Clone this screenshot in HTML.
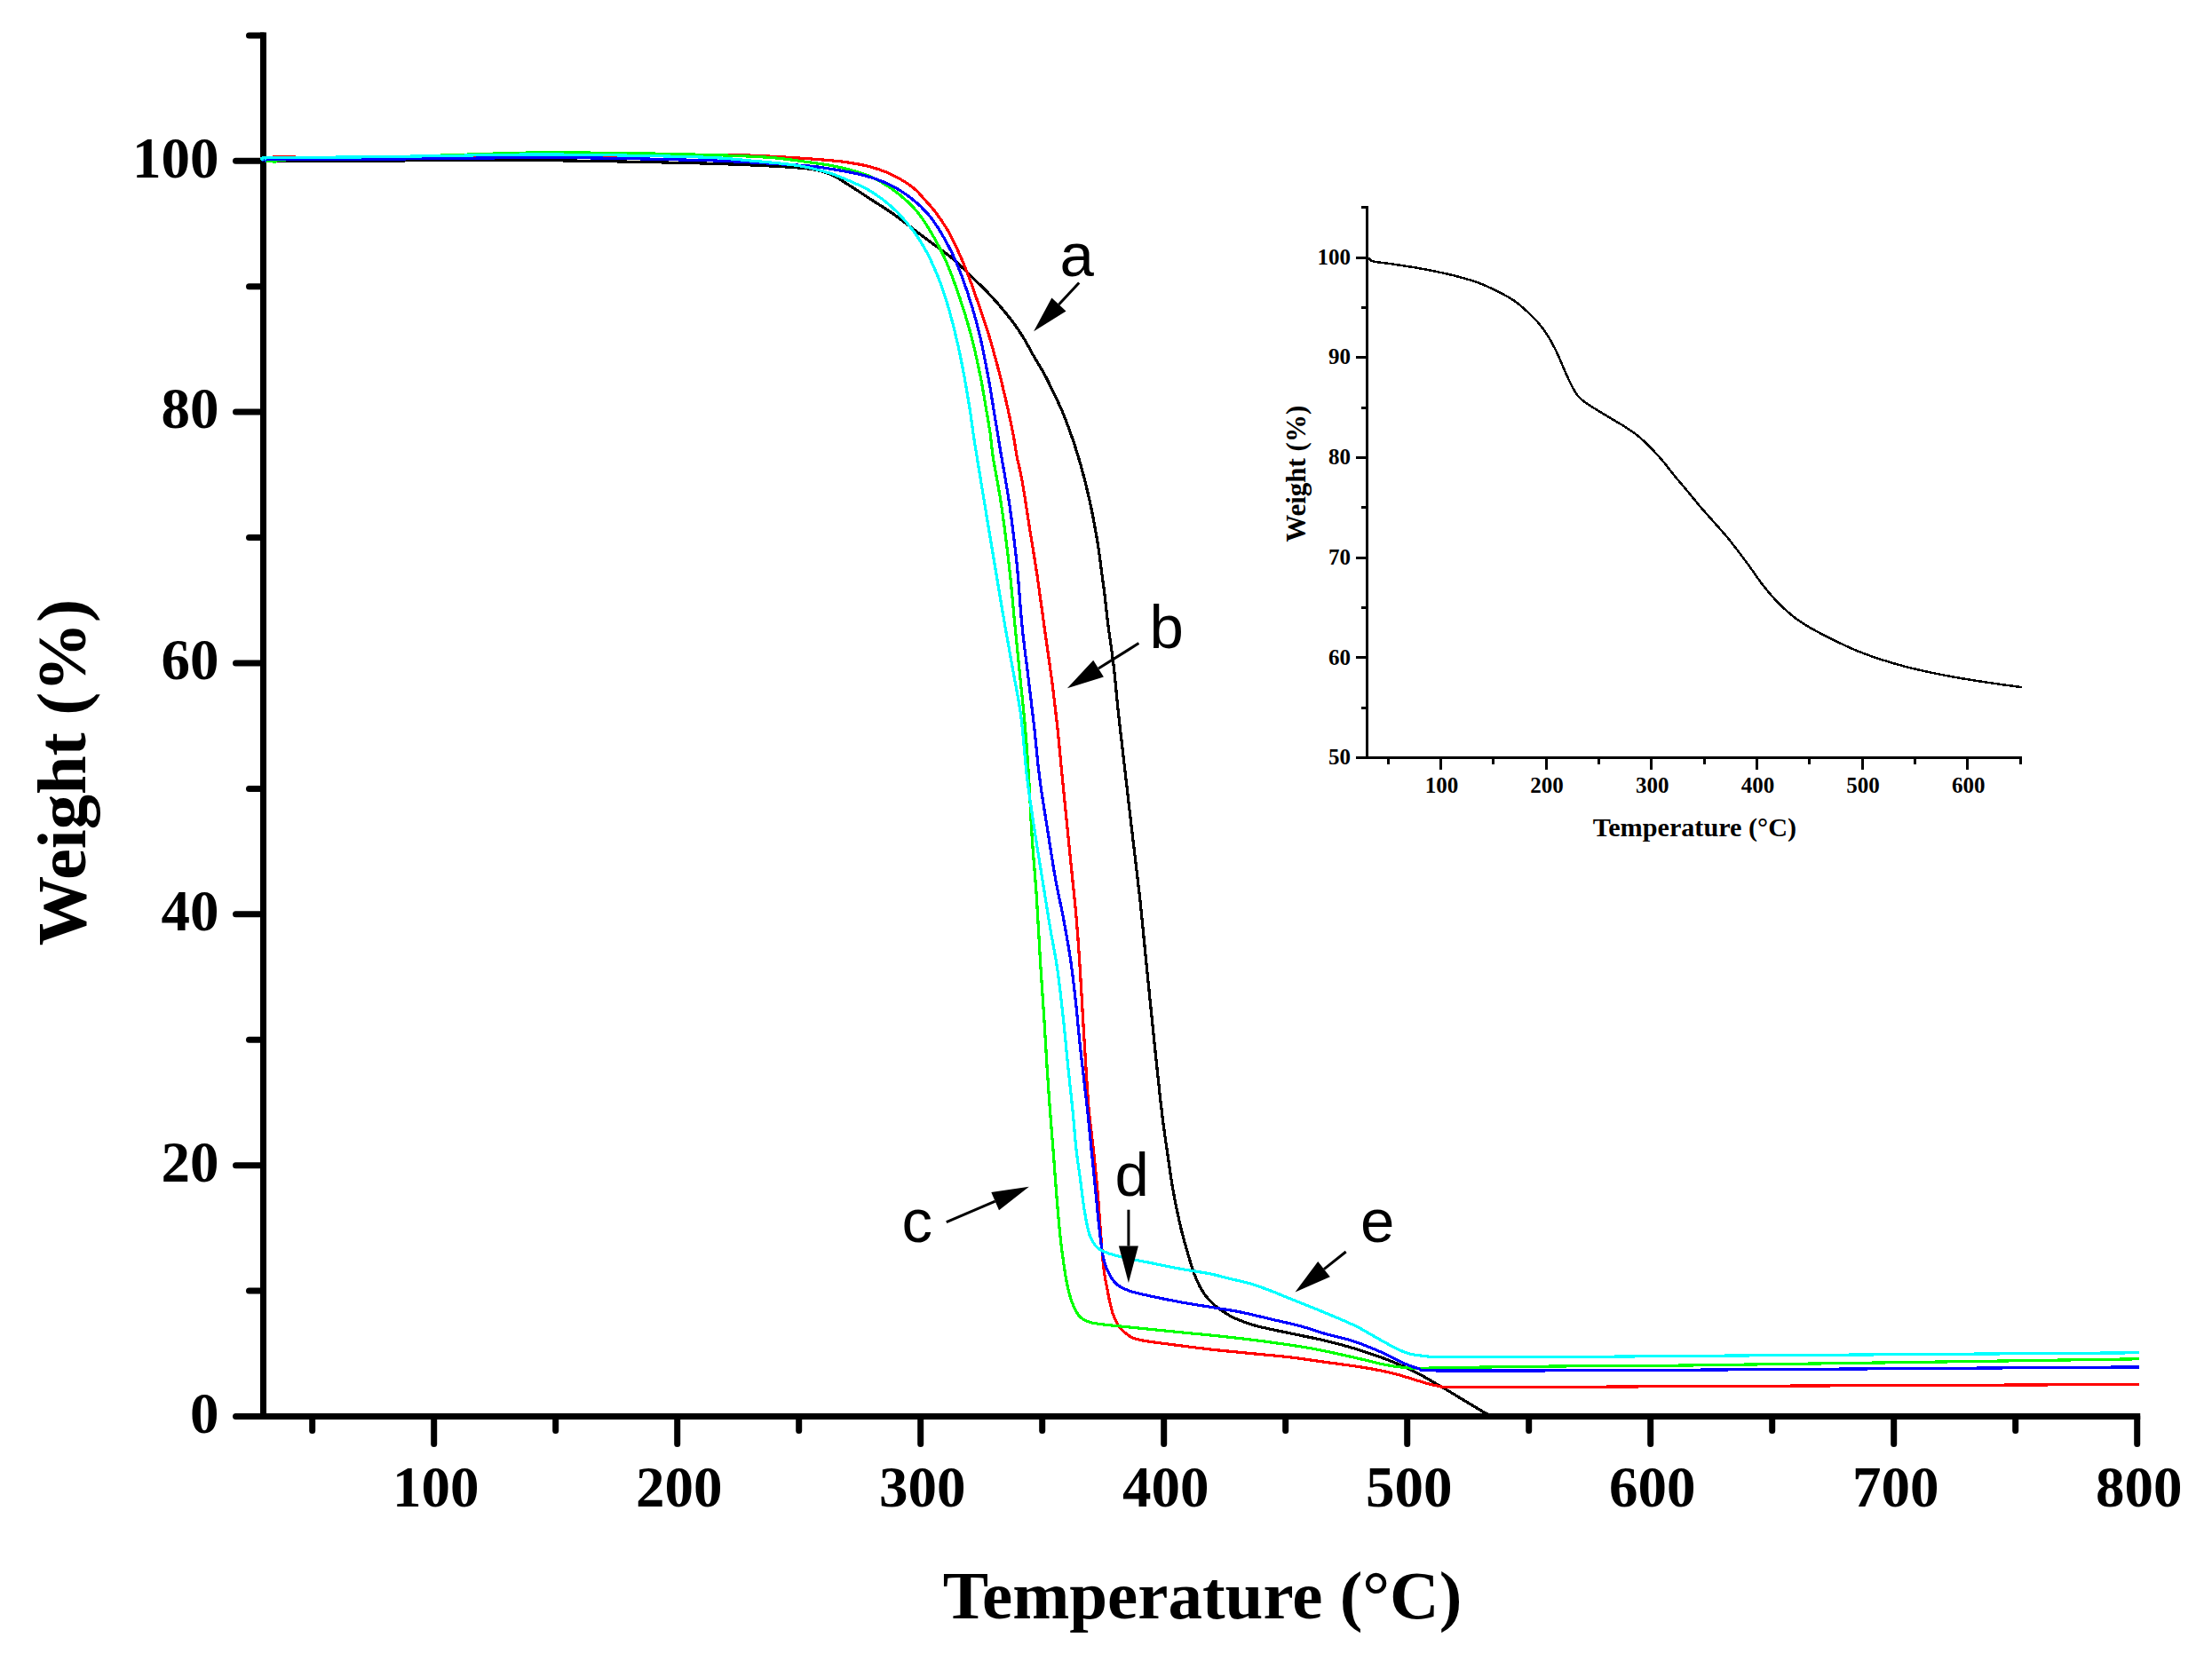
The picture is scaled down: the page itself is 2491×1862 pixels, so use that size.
<!DOCTYPE html>
<html lang="en"><head><meta charset="utf-8"><title>TGA curves</title>
<style>
html,body{margin:0;padding:0;background:#fff;}
body{width:2491px;height:1862px;overflow:hidden;}
svg{display:block;}
.t{font-family:"Liberation Serif","Times New Roman",serif;font-weight:bold;fill:#000;}
.s{font-family:"Liberation Sans",Arial,sans-serif;fill:#000;}
</style></head><body>
<svg width="2491" height="1862" viewBox="0 0 2491 1862">
<rect width="2491" height="1862" fill="#fff"/>
<g stroke="#000" stroke-width="7" stroke-linecap="round" fill="none">
<path stroke-linecap="butt" d="M296.5 36.4 V1599.0"/>
<path stroke-linecap="butt" d="M296.5 1595.5 H2410.2"/>
<path d="M265.5 1595.5 H296.5"/>
<path d="M280.5 1454.1 H296.5"/>
<path d="M265.5 1312.7 H296.5"/>
<path d="M280.5 1171.2 H296.5"/>
<path d="M265.5 1029.8 H296.5"/>
<path d="M280.5 888.4 H296.5"/>
<path d="M265.5 747.0 H296.5"/>
<path d="M280.5 605.6 H296.5"/>
<path d="M265.5 464.1 H296.5"/>
<path d="M280.5 322.7 H296.5"/>
<path d="M265.5 181.3 H296.5"/>
<path d="M280.5 39.9 H296.5"/>
<path d="M351.7 1595.5 V1611.5"/>
<path d="M488.7 1595.5 V1626.5"/>
<path d="M625.7 1595.5 V1611.5"/>
<path d="M762.7 1595.5 V1626.5"/>
<path d="M899.7 1595.5 V1611.5"/>
<path d="M1036.7 1595.5 V1626.5"/>
<path d="M1173.7 1595.5 V1611.5"/>
<path d="M1310.7 1595.5 V1626.5"/>
<path d="M1447.7 1595.5 V1611.5"/>
<path d="M1584.7 1595.5 V1626.5"/>
<path d="M1721.7 1595.5 V1611.5"/>
<path d="M1858.7 1595.5 V1626.5"/>
<path d="M1995.7 1595.5 V1611.5"/>
<path d="M2132.7 1595.5 V1626.5"/>
<path d="M2269.7 1595.5 V1611.5"/>
<path d="M2406.7 1595.5 V1626.5"/>
</g>
<g fill="none" stroke-width="3.2" stroke-linejoin="round" stroke-linecap="butt" shape-rendering="crispEdges">
<path stroke="#000" d="M298.0 181.5C300.0 181.4 293.0 181.1 310.0 181.0C327.0 180.9 368.3 181.0 400.0 181.0C431.7 181.0 466.7 180.9 500.0 180.8C533.3 180.7 566.7 180.3 600.0 180.5C633.3 180.7 666.7 181.4 700.0 182.0C733.3 182.6 772.0 183.4 800.0 184.2C828.0 185.0 849.1 186.0 868.0 187.0C886.9 188.0 902.0 188.8 913.4 190.4C924.8 192.0 928.5 193.4 936.1 196.7C943.7 200.0 951.2 205.6 958.8 210.3C966.4 215.0 973.9 220.2 981.5 225.1C989.1 230.0 996.6 234.5 1004.2 239.8C1011.8 245.1 1019.4 251.1 1026.9 256.8C1034.5 262.5 1042.0 268.1 1049.5 273.8C1057.0 279.5 1064.6 284.5 1072.2 290.9C1079.8 297.3 1087.3 305.0 1094.9 312.4C1102.5 319.8 1110.0 326.8 1117.6 335.1C1125.2 343.4 1134.2 354.4 1140.3 362.3C1146.3 370.2 1150.0 376.4 1153.9 382.7C1157.8 389.0 1159.8 393.5 1163.5 400.0C1167.2 406.5 1172.4 414.5 1176.3 421.8C1180.2 429.1 1183.6 436.3 1187.1 443.6C1190.6 450.9 1194.1 458.1 1197.1 465.4C1200.1 472.6 1202.7 479.9 1205.3 487.1C1207.9 494.4 1210.3 501.6 1212.6 508.9C1214.9 516.2 1216.9 523.4 1218.9 530.7C1220.9 538.0 1222.7 545.2 1224.4 552.5C1226.1 559.8 1227.8 567.0 1229.3 574.3C1230.8 581.6 1232.1 588.8 1233.4 596.1C1234.7 603.4 1235.9 609.7 1237.1 617.9C1238.3 626.1 1239.5 636.0 1240.7 645.1C1241.9 654.2 1243.2 662.8 1244.3 672.3C1245.4 681.8 1246.0 689.1 1247.6 702.0C1249.2 714.9 1252.1 732.1 1254.1 749.5C1256.1 766.9 1257.5 785.4 1259.8 806.3C1262.1 827.2 1265.1 852.2 1267.7 875.0C1270.3 897.8 1272.9 920.4 1275.6 943.1C1278.2 965.8 1280.9 986.5 1283.6 1011.1C1286.2 1035.7 1288.8 1064.0 1291.5 1090.5C1294.2 1117.0 1296.7 1143.3 1299.5 1169.9C1302.3 1196.5 1305.6 1229.1 1308.1 1250.0C1310.5 1270.9 1312.0 1280.3 1314.2 1295.4C1316.4 1310.5 1318.5 1326.7 1321.0 1340.7C1323.5 1354.7 1326.1 1367.2 1328.9 1379.3C1331.7 1391.4 1335.0 1403.1 1338.0 1413.3C1341.0 1423.5 1344.1 1433.2 1347.1 1440.6C1350.1 1448.0 1352.8 1452.7 1356.2 1457.6C1359.6 1462.5 1362.6 1465.8 1367.5 1470.0C1372.4 1474.2 1378.9 1478.9 1385.7 1482.5C1392.5 1486.1 1400.8 1489.1 1408.3 1491.6C1415.8 1494.1 1424.4 1495.8 1431.0 1497.3C1437.6 1498.8 1441.8 1499.5 1448.0 1500.8C1454.2 1502.1 1460.9 1503.5 1468.0 1505.0C1475.1 1506.5 1481.2 1507.5 1490.7 1509.8C1500.2 1512.1 1513.5 1515.5 1524.8 1518.9C1536.1 1522.3 1547.5 1526.0 1558.8 1530.3C1570.1 1534.6 1581.4 1539.3 1592.8 1545.0C1604.2 1550.7 1617.5 1558.8 1626.9 1564.3C1636.4 1569.8 1642.0 1573.4 1649.5 1577.9C1657.0 1582.4 1668.0 1589.0 1672.2 1591.5C1676.5 1594.0 1674.5 1592.8 1675.0 1593.0"/>
<path stroke="#f00" d="M298.0 181.0C300.0 180.3 293.0 177.5 310.0 177.0C327.0 176.5 351.7 178.1 400.0 178.0C448.3 177.9 550.0 177.0 600.0 176.5C650.0 176.0 666.7 175.3 700.0 175.0C733.3 174.7 778.4 174.6 800.0 174.5C821.6 174.4 814.4 174.0 829.5 174.5C844.6 175.0 872.9 176.3 890.7 177.4C908.5 178.5 924.8 179.8 936.1 180.8C947.5 181.8 951.2 182.3 958.8 183.6C966.4 184.8 973.9 186.1 981.5 188.3C989.1 190.5 996.6 193.0 1004.2 196.7C1011.8 200.4 1020.9 205.8 1026.9 210.3C1033.0 214.8 1036.0 219.0 1040.5 223.9C1045.0 228.8 1049.6 233.8 1054.1 239.8C1058.6 245.9 1063.5 253.0 1067.7 260.2C1071.9 267.4 1075.2 274.6 1079.0 282.9C1082.8 291.2 1086.6 300.3 1090.4 310.1C1094.2 319.9 1097.9 330.9 1101.7 341.9C1105.5 352.9 1109.7 364.9 1113.1 375.9C1116.5 386.9 1119.4 397.9 1122.1 407.7C1124.8 417.5 1126.7 425.4 1129.0 434.9C1131.3 444.3 1133.7 454.9 1135.8 464.4C1137.9 473.8 1139.8 483.2 1141.4 491.6C1143.0 500.0 1143.7 506.8 1145.3 515.0C1146.9 523.2 1148.7 528.2 1150.9 540.8C1153.2 553.4 1156.0 572.9 1158.8 590.7C1161.6 608.5 1165.1 628.6 1167.9 647.5C1170.7 666.4 1173.2 685.3 1175.8 704.2C1178.4 723.1 1181.3 742.0 1183.8 760.9C1186.3 779.8 1188.5 798.6 1190.6 817.6C1192.7 836.6 1194.3 856.0 1196.2 875.0C1198.1 894.0 1200.0 912.8 1201.9 931.7C1203.8 950.6 1205.9 971.4 1207.6 988.4C1209.3 1005.4 1210.8 1018.7 1212.1 1033.8C1213.4 1048.9 1214.4 1062.2 1215.5 1079.2C1216.6 1096.2 1217.8 1117.0 1218.9 1135.9C1220.0 1154.8 1221.1 1173.6 1222.3 1192.6C1223.5 1211.6 1224.7 1232.9 1226.2 1250.0C1227.7 1267.1 1229.8 1280.3 1231.4 1295.4C1233.0 1310.5 1234.6 1325.6 1235.9 1340.7C1237.2 1355.8 1238.2 1371.7 1239.3 1386.1C1240.4 1400.5 1241.4 1415.7 1242.7 1427.0C1244.0 1438.3 1245.6 1445.5 1247.3 1454.2C1249.0 1462.9 1250.7 1472.3 1253.0 1479.1C1255.3 1485.9 1257.7 1490.7 1260.9 1495.0C1264.1 1499.3 1268.1 1502.7 1272.2 1505.2C1276.3 1507.7 1278.2 1508.3 1285.8 1509.8C1293.4 1511.3 1304.7 1512.6 1317.6 1514.3C1330.5 1516.0 1347.9 1518.3 1363.0 1520.0C1378.1 1521.7 1393.2 1523.0 1408.3 1524.5C1423.4 1526.0 1440.0 1527.4 1453.7 1529.0C1467.4 1530.6 1477.0 1532.2 1490.7 1534.1C1504.4 1536.0 1522.9 1538.3 1536.1 1540.5C1549.3 1542.7 1560.6 1545.0 1570.1 1547.3C1579.5 1549.6 1585.2 1551.9 1592.8 1554.1C1600.4 1556.3 1607.9 1559.0 1615.5 1560.4C1623.1 1561.8 1617.4 1562.4 1638.2 1562.7C1659.0 1563.0 1696.7 1562.7 1740.3 1562.5C1783.9 1562.3 1788.6 1562.1 1900.0 1561.6C2011.4 1561.1 2323.9 1559.8 2408.7 1559.5"/>
<path stroke="#0f0" d="M298.0 181.0C300.0 181.2 306.3 182.2 310.0 182.0C313.7 181.8 305.0 180.7 320.0 180.0C335.0 179.3 370.0 178.8 400.0 178.0C430.0 177.2 466.7 176.0 500.0 175.0C533.3 174.0 566.7 172.4 600.0 172.0C633.3 171.6 666.7 172.1 700.0 172.5C733.3 172.9 772.0 173.7 800.0 174.5C828.0 175.3 849.1 176.1 868.0 177.5C886.9 178.9 902.0 181.6 913.4 183.1C924.8 184.6 928.5 185.1 936.1 186.5C943.7 187.9 951.2 189.5 958.8 191.7C966.4 193.8 973.9 195.9 981.5 199.4C989.1 202.9 996.6 207.2 1004.2 212.6C1011.8 218.0 1020.9 225.8 1026.9 231.9C1033.0 238.0 1036.0 242.3 1040.5 248.9C1045.0 255.5 1049.9 264.0 1054.1 271.6C1058.2 279.2 1061.6 285.6 1065.4 294.3C1069.2 303.0 1073.4 314.4 1076.8 323.8C1080.2 333.2 1082.8 341.2 1085.8 351.0C1088.8 360.8 1091.9 370.6 1094.9 382.7C1097.9 394.8 1101.3 410.4 1104.0 423.6C1106.7 436.8 1108.9 451.1 1110.8 462.1C1112.7 473.1 1114.0 480.6 1115.3 489.4C1116.5 498.2 1116.3 501.9 1118.3 515.0C1120.3 528.1 1124.5 547.8 1127.5 568.0C1130.5 588.2 1133.7 613.4 1136.3 636.1C1138.9 658.8 1140.9 683.4 1142.9 704.2C1145.0 725.0 1146.7 742.0 1148.6 760.9C1150.5 779.8 1152.6 798.6 1154.3 817.6C1156.0 836.6 1157.2 854.1 1158.5 875.0C1159.8 895.9 1160.7 920.3 1162.2 943.0C1163.7 965.7 1165.9 988.4 1167.4 1011.1C1168.9 1033.8 1169.9 1056.5 1171.3 1079.2C1172.7 1101.9 1174.5 1126.4 1175.8 1147.2C1177.1 1168.0 1178.1 1186.9 1179.2 1204.0C1180.3 1221.1 1181.3 1234.8 1182.4 1250.0C1183.5 1265.2 1184.8 1280.3 1186.0 1295.4C1187.2 1310.5 1188.2 1325.6 1189.4 1340.7C1190.6 1355.8 1192.0 1372.9 1193.3 1386.1C1194.6 1399.3 1196.0 1409.9 1197.4 1420.1C1198.8 1430.3 1200.2 1439.5 1201.9 1447.4C1203.6 1455.4 1205.3 1462.0 1207.6 1467.8C1209.9 1473.6 1212.3 1478.9 1215.5 1482.5C1218.7 1486.1 1221.2 1487.6 1226.9 1489.3C1232.6 1491.0 1238.2 1491.4 1249.5 1492.7C1260.8 1494.0 1279.8 1495.8 1294.9 1497.3C1310.0 1498.8 1325.2 1500.3 1340.3 1501.8C1355.4 1503.3 1370.6 1504.7 1385.7 1506.4C1400.8 1508.1 1415.9 1509.9 1431.0 1512.0C1446.1 1514.1 1460.8 1516.0 1476.4 1518.8C1492.0 1521.6 1511.1 1526.0 1524.8 1529.1C1538.5 1532.1 1549.3 1535.2 1558.8 1537.1C1568.2 1539.0 1573.9 1539.8 1581.5 1540.5C1589.1 1541.2 1589.1 1541.3 1604.2 1541.2C1619.3 1541.1 1642.0 1540.4 1672.2 1540.0C1702.5 1539.6 1747.7 1539.0 1785.7 1538.7C1823.7 1538.4 1796.2 1539.3 1900.0 1538.0C2003.8 1536.7 2323.9 1532.0 2408.7 1530.8"/>
<path stroke="#00f" d="M298.0 181.0C299.2 180.8 288.0 179.8 305.0 179.5C322.0 179.2 350.8 179.8 400.0 179.5C449.2 179.2 550.0 177.7 600.0 177.5C650.0 177.3 666.7 177.9 700.0 178.5C733.3 179.1 772.0 179.9 800.0 180.8C828.0 181.8 849.1 183.1 868.0 184.2C886.9 185.3 902.0 186.2 913.4 187.2C924.8 188.2 928.5 189.2 936.1 190.4C943.7 191.6 951.2 192.8 958.8 194.4C966.4 196.0 973.9 197.6 981.5 200.1C989.1 202.6 996.6 205.2 1004.2 209.2C1011.8 213.2 1020.1 218.6 1026.9 223.9C1033.7 229.2 1039.7 234.9 1045.0 241.0C1050.3 247.1 1054.1 252.8 1058.6 260.2C1063.1 267.6 1068.0 276.5 1072.2 285.2C1076.4 293.9 1079.8 302.2 1083.6 312.4C1087.4 322.6 1091.5 335.0 1094.9 346.4C1098.3 357.8 1101.0 367.3 1104.0 380.5C1107.0 393.7 1110.4 411.4 1113.1 425.8C1115.8 440.2 1118.0 455.4 1119.9 466.7C1121.8 478.0 1123.3 487.2 1124.4 493.9C1125.5 500.6 1124.4 494.6 1126.5 507.0C1128.6 519.4 1133.7 546.5 1136.8 568.0C1139.9 589.5 1142.8 613.4 1145.2 636.1C1147.6 658.8 1148.8 683.4 1150.9 704.2C1153.0 725.0 1155.4 742.0 1157.7 760.9C1160.0 779.8 1162.3 798.6 1164.5 817.6C1166.7 836.6 1168.1 856.0 1170.6 875.0C1173.0 894.0 1176.2 912.8 1179.2 931.7C1182.2 950.6 1185.3 971.4 1188.3 988.4C1191.3 1005.4 1194.6 1018.7 1197.4 1033.8C1200.2 1048.9 1203.0 1064.1 1205.3 1079.2C1207.6 1094.3 1209.1 1107.5 1211.0 1124.5C1212.9 1141.5 1214.4 1160.4 1216.7 1181.3C1219.0 1202.2 1222.5 1231.0 1224.6 1250.0C1226.7 1269.0 1227.6 1280.3 1229.1 1295.4C1230.6 1310.5 1232.2 1325.6 1233.7 1340.7C1235.2 1355.8 1236.7 1373.2 1238.2 1386.1C1239.7 1399.0 1240.8 1409.6 1242.7 1417.9C1244.6 1426.2 1246.8 1431.1 1249.5 1436.0C1252.2 1440.9 1254.8 1444.4 1258.6 1447.4C1262.4 1450.4 1266.2 1452.1 1272.2 1454.2C1278.2 1456.3 1285.5 1457.7 1294.9 1459.8C1304.4 1461.9 1317.6 1464.6 1328.9 1466.7C1340.2 1468.8 1351.7 1470.4 1363.0 1472.3C1374.3 1474.2 1385.7 1475.7 1397.0 1478.0C1408.3 1480.3 1419.7 1483.2 1431.0 1485.9C1442.3 1488.6 1455.1 1491.2 1465.1 1493.9C1475.0 1496.6 1480.8 1499.1 1490.7 1501.9C1500.7 1504.8 1513.5 1507.2 1524.8 1511.0C1536.1 1514.8 1549.3 1520.4 1558.8 1524.6C1568.2 1528.8 1575.1 1533.1 1581.5 1535.9C1587.9 1538.7 1591.7 1540.3 1597.4 1541.6C1603.1 1542.9 1591.7 1543.5 1615.5 1543.9C1639.3 1544.3 1692.9 1544.0 1740.3 1543.9C1787.7 1543.8 1788.6 1543.9 1900.0 1543.2C2011.4 1542.5 2323.9 1540.5 2408.7 1539.9"/>
<path stroke="#0ff" d="M298.0 180.0C298.8 179.6 286.0 178.0 303.0 177.5C320.0 177.0 367.2 177.3 400.0 177.0C432.8 176.7 466.7 176.0 500.0 175.5C533.3 175.0 566.7 174.1 600.0 174.0C633.3 173.9 666.7 174.4 700.0 175.0C733.3 175.6 775.8 176.4 800.0 177.4C824.2 178.4 829.9 179.7 845.0 181.0C860.1 182.3 879.3 184.0 890.7 185.4C902.1 186.8 905.8 187.8 913.4 189.5C921.0 191.2 928.5 193.1 936.1 195.6C943.7 198.1 951.2 201.3 958.8 204.7C966.4 208.1 973.9 211.3 981.5 216.0C989.1 220.7 996.6 226.0 1004.2 233.0C1011.8 240.0 1020.9 250.4 1026.9 258.0C1033.0 265.6 1036.3 271.2 1040.5 278.4C1044.7 285.6 1048.4 293.5 1051.8 301.1C1055.2 308.7 1057.9 315.1 1060.9 323.8C1063.9 332.5 1067.0 342.3 1070.0 353.3C1073.0 364.3 1076.4 377.9 1079.0 389.6C1081.6 401.3 1083.5 411.1 1085.8 423.6C1088.1 436.1 1090.8 452.2 1092.7 464.4C1094.6 476.6 1094.6 479.7 1097.3 497.0C1100.0 514.3 1105.1 544.8 1108.9 568.0C1112.7 591.2 1116.4 613.4 1120.2 636.1C1124.0 658.8 1128.0 683.4 1131.6 704.2C1135.2 725.0 1138.8 743.9 1141.8 760.9C1144.8 777.9 1147.2 787.3 1149.7 806.3C1152.2 825.3 1154.0 854.1 1156.5 875.0C1159.0 895.9 1161.7 912.8 1164.5 931.7C1167.3 950.6 1170.5 969.5 1173.5 988.4C1176.5 1007.3 1179.8 1028.1 1182.6 1045.1C1185.4 1062.1 1188.1 1073.5 1190.6 1090.5C1193.1 1107.5 1195.3 1128.3 1197.4 1147.2C1199.5 1166.1 1201.2 1186.9 1203.0 1204.0C1204.8 1221.1 1206.4 1234.8 1207.9 1250.0C1209.4 1265.2 1210.6 1282.2 1212.1 1295.4C1213.6 1308.6 1215.2 1318.1 1216.7 1329.4C1218.2 1340.7 1219.5 1353.2 1221.2 1363.4C1222.9 1373.6 1224.5 1383.7 1226.9 1390.7C1229.4 1397.7 1232.1 1401.8 1235.9 1405.4C1239.7 1409.0 1243.5 1410.1 1249.5 1412.2C1255.5 1414.3 1264.6 1416.2 1272.2 1417.9C1279.8 1419.6 1285.5 1420.5 1294.9 1422.4C1304.4 1424.3 1317.6 1427.1 1328.9 1429.2C1340.2 1431.3 1353.5 1433.0 1363.0 1434.9C1372.5 1436.8 1378.2 1438.8 1385.7 1440.6C1393.2 1442.4 1400.8 1443.8 1408.3 1446.0C1415.8 1448.2 1423.4 1451.1 1431.0 1454.0C1438.6 1456.9 1443.8 1459.2 1453.7 1463.2C1463.7 1467.2 1478.9 1473.2 1490.7 1478.1C1502.5 1483.0 1515.3 1488.3 1524.8 1492.8C1534.3 1497.3 1540.0 1501.1 1547.5 1505.3C1555.0 1509.5 1563.7 1514.6 1570.1 1517.8C1576.5 1521.0 1580.3 1523.0 1586.0 1524.6C1591.7 1526.2 1597.4 1526.8 1604.2 1527.5C1611.0 1528.2 1604.2 1528.5 1626.9 1528.7C1649.6 1528.9 1694.8 1528.9 1740.3 1528.7C1785.8 1528.5 1788.6 1528.2 1900.0 1527.4C2011.4 1526.6 2323.9 1524.4 2408.7 1523.8"/>
</g>
<g class="t" font-size="65">
<text x="246.5" y="1613.7" text-anchor="end">0</text>
<text x="246.5" y="1330.9" text-anchor="end">20</text>
<text x="246.5" y="1048.0" text-anchor="end">40</text>
<text x="246.5" y="765.2" text-anchor="end">60</text>
<text x="246.5" y="482.3" text-anchor="end">80</text>
<text x="246.5" y="199.5" text-anchor="end">100</text>
<text x="490.7" y="1696.5" text-anchor="middle">100</text>
<text x="764.7" y="1696.5" text-anchor="middle">200</text>
<text x="1038.7" y="1696.5" text-anchor="middle">300</text>
<text x="1312.7" y="1696.5" text-anchor="middle">400</text>
<text x="1586.7" y="1696.5" text-anchor="middle">500</text>
<text x="1860.7" y="1696.5" text-anchor="middle">600</text>
<text x="2134.7" y="1696.5" text-anchor="middle">700</text>
<text x="2408.7" y="1696.5" text-anchor="middle">800</text>
</g>
<text class="t" font-size="77" x="1354" y="1822.5" text-anchor="middle">Temperature (°C)</text>
<text class="t" font-size="78.5" transform="translate(96 870) rotate(-90)" text-anchor="middle">Weight (%)</text>
<g class="s" font-size="69">
<text x="1193.5" y="311.3">a</text>
<text x="1294.5" y="730">b</text>
<text x="1015.5" y="1399.3">c</text>
<text x="1255.5" y="1347.3">d</text>
<text x="1532" y="1399.3">e</text>
</g>
<path d="M1215.2 318.5 L1192.4 342.9" stroke="#000" stroke-width="3" fill="none"/><path d="M1164.1 373.2 L1184.4 335.4 L1200.5 350.4 Z" fill="#000"/>
<path d="M1282.4 724.6 L1237.0 753.1" stroke="#000" stroke-width="3" fill="none"/><path d="M1201.9 775.2 L1231.2 743.8 L1242.9 762.4 Z" fill="#000"/>
<path d="M1065.8 1376.6 L1120.7 1353.1" stroke="#000" stroke-width="3" fill="none"/><path d="M1158.8 1336.7 L1125.0 1363.2 L1116.3 1343.0 Z" fill="#000"/>
<path d="M1270.9 1362.7 L1270.9 1403.6" stroke="#000" stroke-width="3" fill="none"/><path d="M1270.9 1445.1 L1259.9 1403.6 L1281.9 1403.6 Z" fill="#000"/>
<path d="M1515.7 1410.0 L1491.0 1429.6" stroke="#000" stroke-width="3" fill="none"/><path d="M1458.5 1455.4 L1484.2 1421.0 L1497.8 1438.2 Z" fill="#000"/>
<g stroke="#000" stroke-width="3" stroke-linecap="butt" fill="none" shape-rendering="crispEdges">
<path d="M1539.6 232.1 V855.0"/>
<path d="M1539.6 853.5 H2276.5"/>
<path d="M1527.0 853.5 H1539.6"/>
<path d="M1533.0 797.1 H1539.6"/>
<path d="M1527.0 740.8 H1539.6"/>
<path d="M1533.0 684.5 H1539.6"/>
<path d="M1527.0 628.1 H1539.6"/>
<path d="M1533.0 571.8 H1539.6"/>
<path d="M1527.0 515.4 H1539.6"/>
<path d="M1533.0 459.1 H1539.6"/>
<path d="M1527.0 402.7 H1539.6"/>
<path d="M1533.0 346.4 H1539.6"/>
<path d="M1527.0 290.0 H1539.6"/>
<path d="M1533.0 233.6 H1539.6"/>
<path d="M1563.1 853.5 V860.5"/>
<path d="M1622.4 853.5 V866.5"/>
<path d="M1681.7 853.5 V860.5"/>
<path d="M1741.1 853.5 V866.5"/>
<path d="M1800.4 853.5 V860.5"/>
<path d="M1859.7 853.5 V866.5"/>
<path d="M1919.0 853.5 V860.5"/>
<path d="M1978.4 853.5 V866.5"/>
<path d="M2037.7 853.5 V860.5"/>
<path d="M2097.0 853.5 V866.5"/>
<path d="M2156.3 853.5 V860.5"/>
<path d="M2215.7 853.5 V866.5"/>
<path d="M2275.0 853.5 V860.5"/>
</g>
<path fill="none" stroke="#000" stroke-width="2.5" stroke-linejoin="round" shape-rendering="crispEdges" d="M1540.9 290.3C1541.8 291.0 1542.1 293.4 1546.3 294.5C1550.5 295.6 1556.9 295.8 1566.3 297.2C1575.7 298.6 1590.5 300.7 1602.6 303.0C1614.7 305.3 1628.3 308.1 1638.9 310.8C1649.5 313.5 1657.9 316.0 1666.1 319.0C1674.3 322.0 1681.6 325.8 1687.9 329.0C1694.2 332.2 1699.1 334.6 1704.2 338.1C1709.3 341.6 1714.2 345.8 1718.7 349.9C1723.2 354.0 1727.6 358.1 1731.5 362.6C1735.4 367.1 1739.0 372.0 1742.3 377.1C1745.6 382.2 1748.5 387.6 1751.4 393.4C1754.3 399.1 1757.2 406.2 1759.6 411.6C1762.0 417.1 1763.8 421.6 1765.9 426.1C1768.0 430.6 1770.3 435.3 1772.3 438.8C1774.3 442.3 1775.7 444.6 1777.7 446.9C1779.7 449.2 1781.2 450.3 1784.1 452.4C1787.0 454.5 1790.5 456.8 1795.0 459.7C1799.5 462.6 1805.5 466.1 1811.3 469.6C1817.0 473.1 1824.0 477.0 1829.5 480.5C1835.0 484.0 1839.5 486.9 1844.0 490.5C1848.5 494.1 1852.2 497.8 1856.7 502.3C1861.2 506.8 1866.4 512.1 1871.2 517.7C1876.0 523.3 1880.9 530.0 1885.7 535.9C1890.5 541.8 1895.0 546.8 1900.2 553.1C1905.5 559.4 1909.8 565.1 1917.2 573.6C1924.6 582.1 1936.2 594.6 1944.4 604.4C1952.6 614.2 1959.5 623.7 1966.2 632.6C1972.9 641.5 1979.0 650.9 1984.4 658.0C1989.9 665.1 1993.5 669.5 1998.9 675.2C2004.3 681.0 2011.0 687.5 2017.0 692.5C2023.0 697.5 2027.6 700.7 2035.2 705.2C2042.8 709.7 2053.3 715.2 2062.4 719.7C2071.5 724.2 2080.5 728.6 2089.6 732.4C2098.7 736.2 2107.8 739.4 2116.9 742.4C2126.0 745.4 2135.0 748.1 2144.1 750.5C2153.2 752.9 2162.2 754.9 2171.3 756.9C2180.4 758.9 2189.4 760.6 2198.5 762.3C2207.6 764.0 2216.7 765.5 2225.8 766.9C2234.9 768.3 2244.5 769.7 2253.0 770.9C2261.5 772.1 2272.7 773.6 2276.6 774.1"/>
<g class="t" font-size="25">
<text x="1521" y="861.2" text-anchor="end">50</text>
<text x="1521" y="748.5" text-anchor="end">60</text>
<text x="1521" y="635.8" text-anchor="end">70</text>
<text x="1521" y="523.1" text-anchor="end">80</text>
<text x="1521" y="410.4" text-anchor="end">90</text>
<text x="1521" y="297.7" text-anchor="end">100</text>
<text x="1623.4" y="893.3" text-anchor="middle">100</text>
<text x="1742.1" y="893.3" text-anchor="middle">200</text>
<text x="1860.7" y="893.3" text-anchor="middle">300</text>
<text x="1979.4" y="893.3" text-anchor="middle">400</text>
<text x="2098.0" y="893.3" text-anchor="middle">500</text>
<text x="2216.7" y="893.3" text-anchor="middle">600</text>
</g>
<text class="t" font-size="30.2" x="1908.4" y="942.3" text-anchor="middle">Temperature (°C)</text>
<text class="t" font-size="31" transform="translate(1470.4 533.8) rotate(-90)" text-anchor="middle">Weight (%)</text>
</svg></body></html>
